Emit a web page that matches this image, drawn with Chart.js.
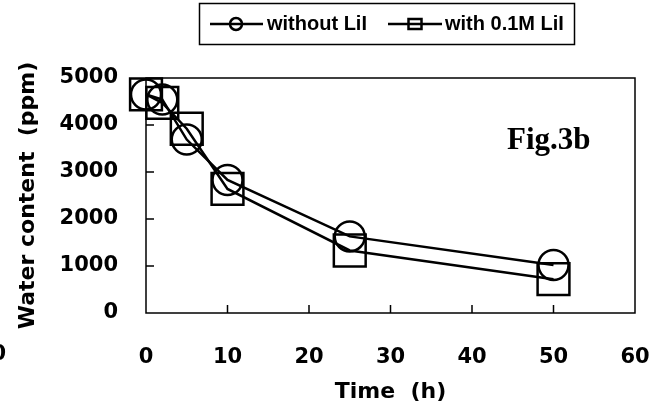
<!DOCTYPE html>
<html>
<head>
<meta charset="utf-8">
<script src="https://cdn.jsdelivr.net/npm/chart.js@4.4.1/dist/chart.umd.min.js"></script>
<style>
  body { margin: 0; background: #fff; }
</style>
</head>
<body>
<canvas id="waterChart" width="661" height="414"></canvas>
<script>
const times = [0, 2, 5, 10, 25, 50];
const withoutLiI = [4650, 4540, 3690, 2830, 1630, 1020];
const withLiI = [4650, 4470, 3920, 2640, 1330, 720];
const xTicks = [0, 10, 20, 30, 40, 50, 60];
const yTicks = [0, 1000, 2000, 3000, 4000, 5000];
const seriesLabels = ['without LiI', 'with 0.1M LiI'];

const tickFont = { family: 'DejaVu Sans', weight: 'bold', size: 21 };
const titleFont = { family: 'DejaVu Sans', weight: 'bold', size: 22 };

function toPoints(vals) {
    return times.map((t, i) => ({ x: t, y: vals[i] }));
}

// frame, inward ticks, boxed legend and the "Fig.3b" label
const decorations = {
    id: 'decorations',
    afterDraw(chart) {
        const ctx = chart.ctx;
        const area = chart.chartArea;
        const xs = chart.scales.x;
        const ys = chart.scales.y;

        ctx.save();
        ctx.strokeStyle = '#000';
        ctx.lineWidth = 1.5;
        ctx.strokeRect(area.left, area.top, area.right - area.left, area.bottom - area.top);

        ctx.beginPath();
        xTicks.slice(1, -1).forEach(v => {
            const px = xs.getPixelForValue(v);
            ctx.moveTo(px, area.bottom);
            ctx.lineTo(px, area.bottom - 8);
        });
        yTicks.slice(1, -1).forEach(v => {
            const py = ys.getPixelForValue(v);
            ctx.moveTo(area.left, py);
            ctx.lineTo(area.left + 8, py);
        });
        ctx.stroke();

        // legend
        ctx.lineWidth = 1.5;
        ctx.strokeRect(199.5, 3.5, 375, 41);
        ctx.lineWidth = 2.5;
        ctx.beginPath();
        ctx.moveTo(210, 24); ctx.lineTo(263, 24);
        ctx.moveTo(388, 24); ctx.lineTo(442, 24);
        ctx.stroke();
        ctx.beginPath();
        ctx.arc(236, 24, 6, 0, Math.PI * 2);
        ctx.stroke();
        ctx.strokeRect(408.5, 19, 13, 10);

        ctx.fillStyle = '#000';
        ctx.font = 'bold 20px "Liberation Sans"';
        ctx.textBaseline = 'middle';
        ctx.textAlign = 'left';
        ctx.fillText(chart.data.datasets[0].label, 267, 24);
        ctx.fillText(chart.data.datasets[1].label, 445, 24);

        ctx.font = 'bold 31px "Liberation Serif"';
        ctx.textBaseline = 'alphabetic';
        ctx.fillText('Fig.3b', 507, 149);

        // cut-off label from the neighbouring figure
        ctx.font = 'bold 21px "DejaVu Sans"';
        ctx.textAlign = 'right';
        ctx.textBaseline = 'middle';
        ctx.fillText('0', 6, 355);
        ctx.restore();
    }
};

new Chart(document.getElementById('waterChart'), {
    type: 'scatter',
    data: {
        datasets: [{
            label: seriesLabels[0],
            data: toPoints(withoutLiI),
            showLine: true,
            borderColor: '#000',
            borderWidth: 2.5,
            pointStyle: 'circle',
            pointRadius: 15,
            pointBorderWidth: 2.5,
            pointBackgroundColor: 'rgba(0,0,0,0)',
            pointBorderColor: '#000',
            clip: false
        }, {
            label: seriesLabels[1],
            data: toPoints(withLiI),
            showLine: true,
            borderColor: '#000',
            borderWidth: 2.5,
            pointStyle: 'rect',
            pointRadius: 22.5,
            pointBorderWidth: 2.5,
            pointBackgroundColor: 'rgba(0,0,0,0)',
            pointBorderColor: '#000',
            clip: false
        }]
    },
    options: {
        responsive: false,
        animation: false,
        layout: { padding: { top: 78, right: 26, left: 0, bottom: 0 } },
        plugins: {
            legend: { display: false },
            tooltip: { enabled: false }
        },
        scales: {
            x: {
                type: 'linear',
                min: 0,
                max: 60,
                afterBuildTicks: s => { s.ticks = xTicks.map(v => ({ value: v })); },
                afterFit: s => {
                    s.height = 101;
                    s.paddingLeft = 0;
                    s.paddingRight = 0;
                },
                grid: { display: false, drawTicks: false },
                border: { display: false },
                ticks: { color: '#000', font: tickFont, padding: 32, maxRotation: 0, callback: v => String(v) },
                title: {
                    display: true,
                    text: 'Time  (h)',
                    color: '#000',
                    font: titleFont,
                    padding: { top: 0, bottom: 9 }
                }
            },
            y: {
                type: 'linear',
                min: 0,
                max: 5000,
                afterBuildTicks: s => { s.ticks = yTicks.map(v => ({ value: v })); },
                afterFit: s => {
                    s.width = 146;
                    s.paddingTop = 0;
                    s.paddingBottom = 0;
                },
                grid: { display: false, drawTicks: false },
                border: { display: false },
                ticks: { color: '#000', font: tickFont, padding: 28, callback: v => String(v) },
                title: {
                    display: true,
                    text: 'Water content  (ppm)',
                    color: '#000',
                    font: titleFont,
                    padding: { top: 15, bottom: 0 }
                }
            }
        }
    },
    plugins: [decorations]
});
</script>
</body>
</html>
